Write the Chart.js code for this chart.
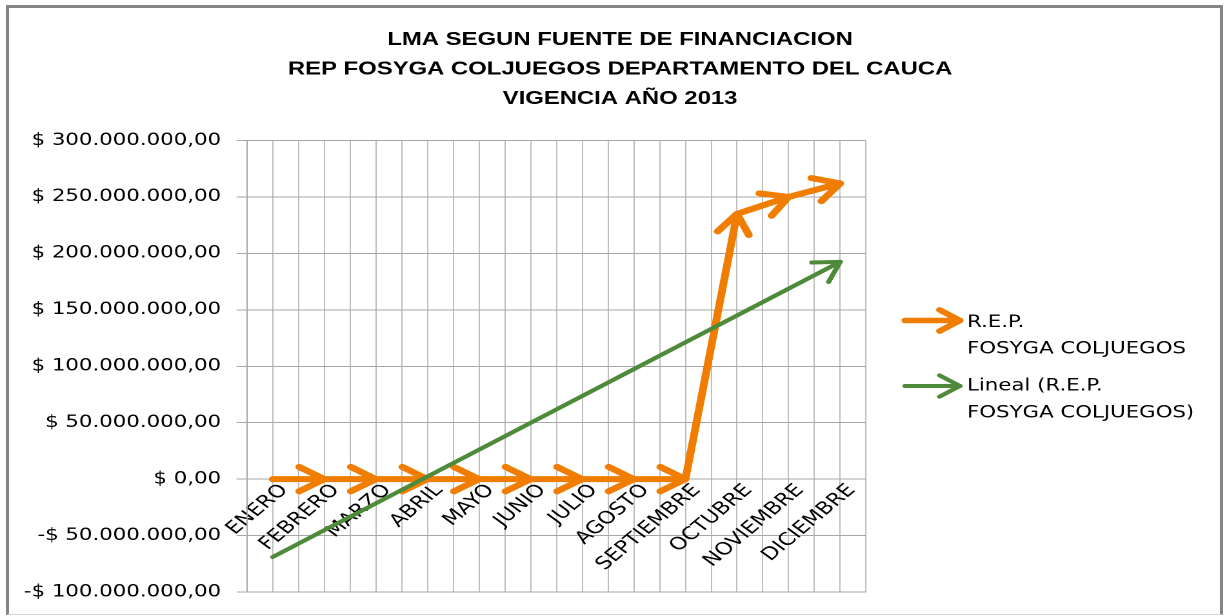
<!DOCTYPE html>
<html>
<head>
<meta charset="utf-8">
<script src="https://cdn.jsdelivr.net/npm/chart.js@4.4.1/dist/chart.umd.min.js"></script>
<style>
html,body{margin:0;padding:0;background:#fff;width:1227px;height:616px;overflow:hidden;}
#wrap{position:absolute;left:0;top:0;width:951px;height:616px;transform:scaleX(1.29022);transform-origin:0 0;}
#frame{position:absolute;left:6px;top:5px;width:1211px;height:606px;border:3px solid #858585;border-bottom:1px solid #d4d4d4;box-sizing:content-box;pointer-events:none;}
</style>
</head>
<body>
<div id="wrap"><canvas id="c" width="951" height="616"></canvas></div>
<div id="frame"></div>
<script>
const months = ['ENERO','FEBRERO','MARZO','ABRIL','MAYO','JUNIO','JULIO','AGOSTO','SEPTIEMBRE','OCTUBRE','NOVIEMBRE','DICIEMBRE'];
const repValues = [0,0,0,0,0,0,0,0,0,235000000,250000000,262000000];
const trendValues = [-69000000,null,null,null,null,null,null,null,null,null,null,192500000];
const yTicks = [-100000000,-50000000,0,50000000,100000000,150000000,200000000,250000000,300000000];
const yTickLabels = ['-$ 100.000.000,00','-$ 50.000.000,00','$ 0,00','$ 50.000.000,00','$ 100.000.000,00','$ 150.000.000,00','$ 200.000.000,00','$ 250.000.000,00','$ 300.000.000,00'];
const titleLines = ['LMA SEGUN FUENTE DE FINANCIACION','REP FOSYGA COLJUEGOS DEPARTAMENTO DEL CAUCA','VIGENCIA AÑO 2013'];
const repLabel = ['R.E.P.','FOSYGA COLJUEGOS'];
const trendLabel = ['Lineal (R.E.P.','FOSYGA COLJUEGOS)'];

const ORANGE = '#F07D00';
const GREEN = '#4E8A3A';
const FONT = 'DejaVu Sans';

function drawHead(ctx, fx, fy, tx, ty, len, ang, color, width) {
  const a = Math.atan2(ty - fy, tx - fx);
  ctx.save();
  ctx.strokeStyle = color;
  ctx.lineWidth = width;
  ctx.lineCap = 'round';
  ctx.lineJoin = 'round';
  ctx.beginPath();
  ctx.moveTo(tx - len * Math.cos(a - ang), ty - len * Math.sin(a - ang));
  ctx.lineTo(tx, ty);
  ctx.lineTo(tx - len * Math.cos(a + ang), ty - len * Math.sin(a + ang));
  ctx.stroke();
  ctx.restore();
}

const arrowPlugin = {
  id: 'arrows',
  afterDatasetDraw(chart, args) {
    const ds = chart.data.datasets[args.index];
    const pts = args.meta.data.filter((p, i) => ds.data[i].y !== null);
    const ctx = chart.ctx;
    const ang = ds.headAngle * Math.PI / 180;
    for (let i = 1; i < pts.length; i++) {
      drawHead(ctx, pts[i-1].x, pts[i-1].y, pts[i].x, pts[i].y, ds.headLen, ang, ds.borderColor, ds.borderWidth);
    }
  }
};

const legendPlugin = {
  id: 'sideLegend',
  afterDraw(chart) {
    const ctx = chart.ctx;
    const dss = chart.data.datasets;
    const items = [
      {ds: dss[0], lines: repLabel, ay: 320.5, ys: [327, 353.5], w: 5.5},
      {ds: dss[1], lines: trendLabel, ay: 386, ys: [390.5, 417.5], w: 4}
    ];
    const x0 = 701.4, x1 = 744, tx = 749.5;
    items.forEach(it => {
      ctx.save();
      ctx.strokeStyle = it.ds.borderColor;
      ctx.lineWidth = it.w;
      ctx.lineCap = 'round';
      ctx.beginPath();
      ctx.moveTo(x0, it.ay);
      ctx.lineTo(x1, it.ay);
      ctx.stroke();
      ctx.restore();
      drawHead(ctx, x0, it.ay, x1, it.ay, 19, 34 * Math.PI / 180, it.ds.borderColor, it.w);
      ctx.save();
      ctx.fillStyle = '#000';
      ctx.font = '16.5px "' + FONT + '"';
      ctx.textAlign = 'left';
      ctx.textBaseline = 'alphabetic';
      it.lines.forEach((t, k) => ctx.fillText(t, tx, it.ys[k]));
      ctx.restore();
    });
  }
};

new Chart(document.getElementById('c'), {
  type: 'line',
  data: {
    datasets: [
      {
        label: repLabel.join(' '),
        data: months.map((m, i) => ({x: i, y: repValues[i]})),
        borderColor: ORANGE,
        borderWidth: 6,
        pointRadius: 0,
        tension: 0,
        borderCapStyle: 'round',
        borderJoinStyle: 'round',
        headLen: 23,
        headAngle: 32,
        order: 1,
        xAxisID: 'x',
        yAxisID: 'y'
      },
      {
        label: trendLabel.join(' '),
        data: months.map((m, i) => ({x: i, y: trendValues[i]})),
        borderColor: GREEN,
        borderWidth: 4,
        pointRadius: 0,
        tension: 0,
        spanGaps: true,
        borderCapStyle: 'round',
        headLen: 22,
        headAngle: 32,
        order: 0,
        xAxisID: 'x',
        yAxisID: 'y'
      }
    ]
  },
  options: {
    responsive: false,
    animation: false,
    devicePixelRatio: 2,
    layout: {padding: {left: 10.2, right: 0, top: 0, bottom: 24}},
    plugins: {
      legend: {display: false},
      tooltip: {enabled: false},
      title: {
        display: true,
        text: titleLines,
        color: '#000',
        font: {family: 'Liberation Sans', weight: 'bold', size: 18.5, lineHeight: 29.5 / 18.5},
        padding: {top: 25.25, bottom: 26.75}
      }
    },
    scales: {
      x: {
        type: 'linear',
        position: {y: 0},
        min: -0.5,
        max: 11.5,
        ticks: {
          stepSize: 0.5,
          autoSkip: false,
          maxTicksLimit: 100,
          maxRotation: 47,
          minRotation: 47,
          padding: 1,
          labelOffset: 9,
          color: '#000',
          font: {family: FONT, size: 17.5},
          callback: (v) => Number.isInteger(v) ? months[v] : ''
        },
        grid: {color: '#bdbdbd', lineWidth: 1, drawTicks: false},
        border: {display: false}
      },
      y: {
        type: 'linear',
        position: 'left',
        min: -100000000,
        max: 300000000,
        ticks: {
          stepSize: 50000000,
          padding: 12,
          color: '#000',
          font: {family: FONT, size: 16.5},
          callback: (v) => { const k = yTicks.indexOf(v); return k >= 0 ? yTickLabels[k] : ''; }
        },
        grid: {color: '#a6a6a6', tickLength: 8},
        border: {color: '#a6a6a6'},
        afterFit: (s) => { s.width = 181.2; }
      },
      yr: {
        type: 'linear',
        position: 'right',
        display: true,
        grid: {display: false, drawTicks: false},
        ticks: {display: false},
        border: {display: false},
        afterFit: (s) => { s.width = 279.8; }
      }
    }
  },
  plugins: [arrowPlugin, legendPlugin]
});
</script>
</body>
</html>
